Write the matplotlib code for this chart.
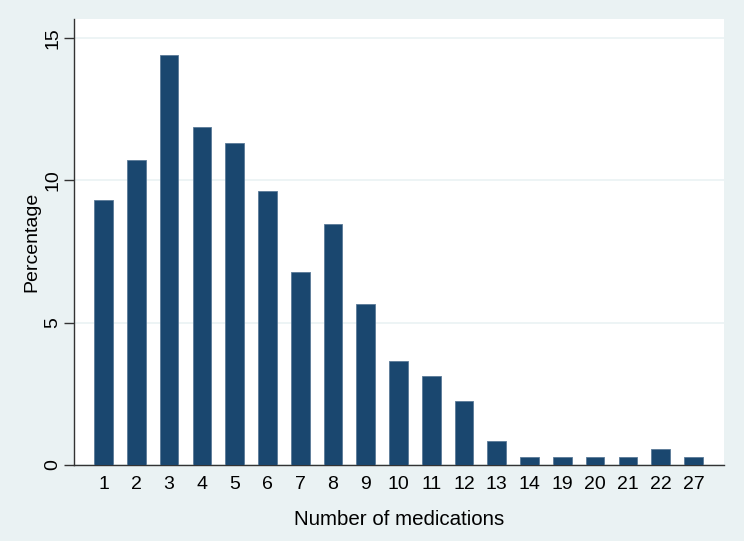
import numpy as np
import matplotlib.pyplot as plt

plt.rcParams['font.family'] = ['Liberation Sans', 'DejaVu Sans']

# number of medications and share of patients (%)
meds = ['1', '2', '3', '4', '5', '6', '7', '8', '9', '10', '11', '12',
        '13', '14', '19', '20', '21', '22', '27']
pct = [9.30, 10.70, 14.40, 11.87, 11.30, 9.61, 6.78, 8.47, 5.65, 3.67,
       3.11, 2.26, 0.85, 0.28, 0.28, 0.28, 0.28, 0.56, 0.28]

bg = '#eaf2f3'
navy = '#1a476f'

fig = plt.figure(figsize=(7.44, 5.41), dpi=100, facecolor=bg)
ax = fig.add_axes([0.0995, 0.1405, 0.8735, 0.8245])
ax.set_facecolor('white')

x = np.arange(1, len(meds) + 1)
ax.bar(x, pct, width=0.57, color=navy, edgecolor='#5a7a98', linewidth=0.6, zorder=3)

ax.set_xlim(0.1, len(meds) + 0.93)
ax.set_ylim(0, 15.67)
ax.set_yticks([0, 5, 10, 15])
ax.set_xticks(x)
ax.set_xticklabels(meds)
ax.yaxis.grid(True, color=bg, linewidth=1.2, zorder=0)

for s in ['top', 'right']:
    ax.spines[s].set_visible(False)
for s in ['left', 'bottom']:
    ax.spines[s].set_color('#333333')
    ax.spines[s].set_linewidth(1.0)

ax.tick_params(axis='y', length=7, width=1, color='#333333', labelsize=14,
               labelrotation=90, pad=2)
ax.tick_params(axis='x', length=0, labelsize=14, pad=8)
for lab in ax.get_yticklabels():
    lab.set_va('center')

ax.set_ylabel('Percentage', fontsize=14, labelpad=3)
ax.set_xlabel('Number of medications', fontsize=14.8, labelpad=12)

fig.savefig('out.png', dpi=100, facecolor=bg)
